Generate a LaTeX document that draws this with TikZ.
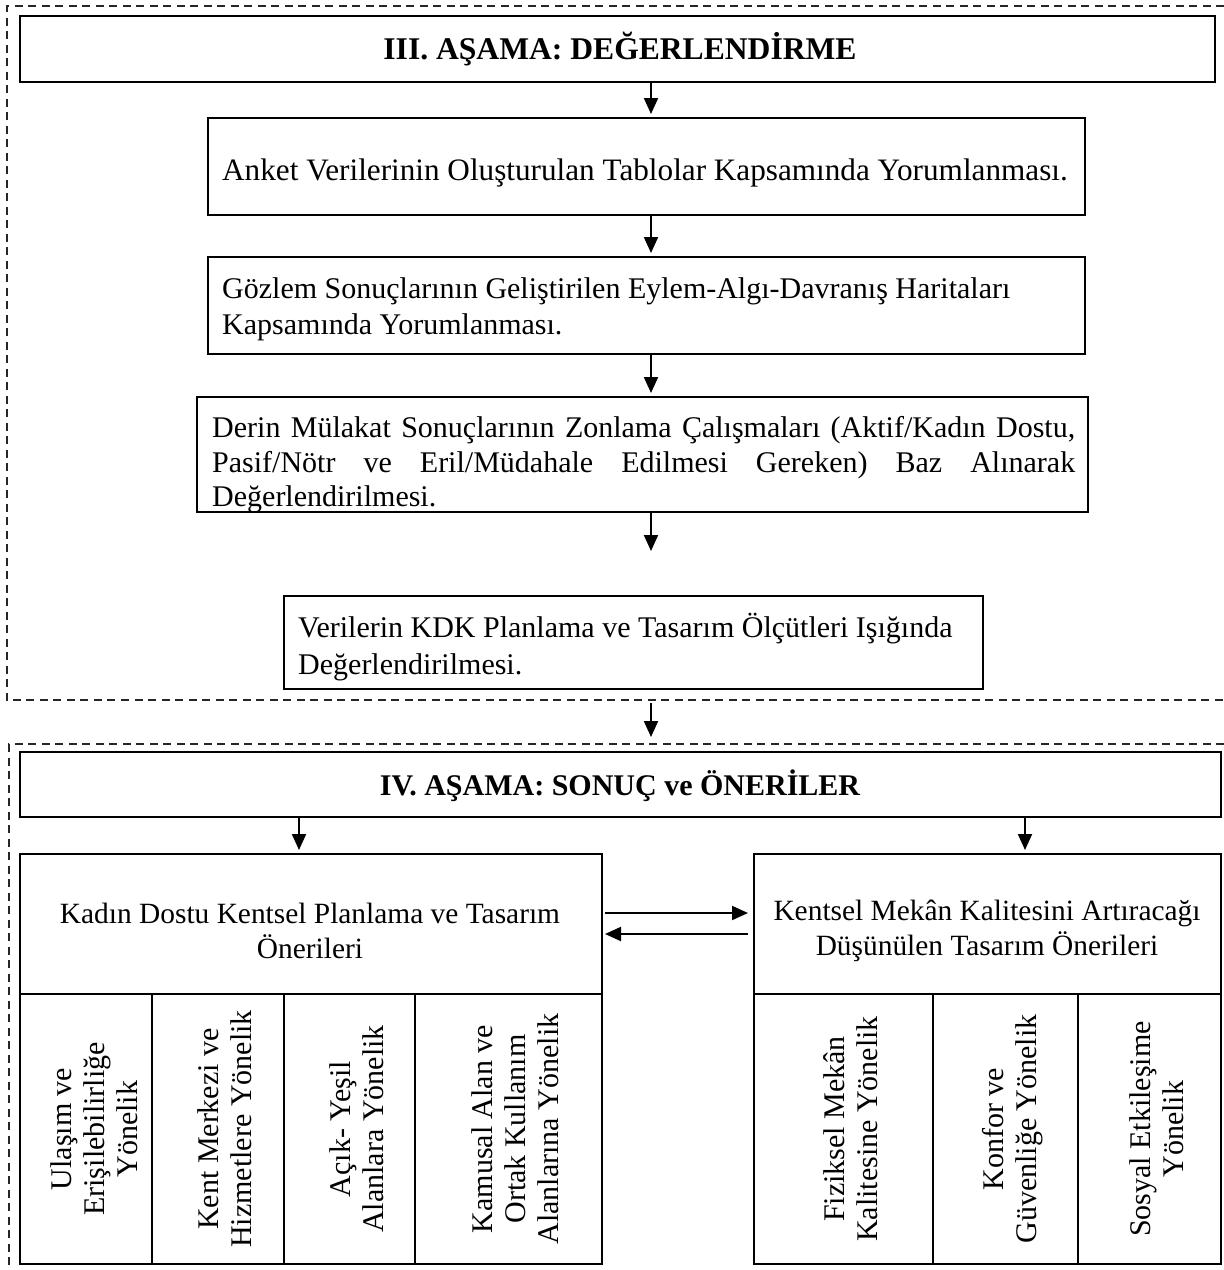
\documentclass[tikz,border=0pt]{standalone}
\usepackage{fontspec}
\setmainfont{Liberation Serif}
\usetikzlibrary{arrows.meta}
\begin{document}
\begin{tikzpicture}[x=1pt,y=-1pt,
  box/.style={draw, line width=1.7pt, inner sep=0pt, outer sep=0pt, anchor=north west},
  dline/.style={draw=black!85, line width=1.4pt, dash pattern=on 8pt off 5.5pt},
  arr/.style={-{Triangle[length=16pt,width=14pt]}, line width=2pt},
  txt/.style={font=\fontsize{30}{36}\selectfont, inner sep=0pt},
  ttl/.style={font=\fontsize{30}{35}\selectfont\bfseries, inner sep=0pt},
  vtxt/.style={font=\fontsize{30}{33}\selectfont, inner sep=0pt, rotate=90, align=center},
]
\useasboundingbox (0,0) rectangle (1224,1270);
% dashed frames
\draw[dline] (1224,6) -- (7,6) -- (7,700) -- (1224,700);
\draw[dline] (1224,744) -- (9,744) -- (9,1272);
% boxes
\node[box, minimum width=1195pt, minimum height=66pt] (t1) at (20,16) {};
\node[box, minimum width=877pt, minimum height=97pt] (b2) at (208,118) {};
\node[box, minimum width=877pt, minimum height=97pt] (b3) at (208,257) {};
\node[box, minimum width=891pt, minimum height=115pt] (b4) at (197,397) {};
\node[box, minimum width=699pt, minimum height=93pt] (b5) at (284,596) {};
\node[box, minimum width=1201pt, minimum height=65pt] (t2) at (20,752) {};
\node[box, minimum width=582pt, minimum height=140pt] (lu) at (20,854) {};
\node[box, minimum width=467pt, minimum height=140pt] (ru) at (754,854) {};
\node[box, minimum width=132pt, minimum height=270pt] (c1) at (20,994) {};
\node[box, minimum width=132pt, minimum height=270pt] (c2) at (152,994) {};
\node[box, minimum width=131pt, minimum height=270pt] (c3) at (284,994) {};
\node[box, minimum width=187pt, minimum height=270pt] (c4) at (415,994) {};
\node[box, minimum width=179pt, minimum height=270pt] (c5) at (754,994) {};
\node[box, minimum width=145pt, minimum height=270pt] (c6) at (933,994) {};
\node[box, minimum width=143pt, minimum height=270pt] (c7) at (1078,994) {};
% texts
\node[ttl, font=\fontsize{31.6}{36}\selectfont\bfseries] (t1t) at (620,49) {III. AŞAMA: DEĞERLENDİRME};
\node[txt, anchor=west, font=\fontsize{31.2}{36}\selectfont] (b2t) at (222,173) {Anket Verilerinin Oluşturulan Tablolar Kapsamında Yorumlanması.};
\node[txt, anchor=west, align=left] (b3t) at (222,309) {Gözlem Sonuçlarının Geliştirilen Eylem-Algı-Davranış Haritaları\\Kapsamında Yorumlanması.};
\node[txt, anchor=west, text width=863pt, align=justify, font=\fontsize{30}{34.5}\selectfont] (b4t) at (212,465) {Derin Mülakat Sonuçlarının Zonlama Çalışmaları (Aktif/Kadın Dostu,\linebreak Pasif/Nötr ve Eril/Müdahale Edilmesi Gereken) Baz Alınarak\linebreak Değerlendirilmesi.};
\node[txt, anchor=west, align=left, font=\fontsize{30}{37}\selectfont] (b5t) at (298,647) {Verilerin KDK Planlama ve Tasarım Ölçütleri Işığında\\Değerlendirilmesi.};
\node[ttl] (t2t) at (620,786) {IV. AŞAMA: SONUÇ ve ÖNERİLER};
\node[txt, align=center, font=\fontsize{29.4}{35}\selectfont] (lut) at (310,931) {Kadın Dostu Kentsel Planlama ve Tasarım\\Önerileri};
\node[txt, align=center, font=\fontsize{29.4}{35}\selectfont] (rut) at (987,931) {Kentsel Mekân Kalitesini Artıracağı\\Düşünülen Tasarım Önerileri};
\node[vtxt] (c1t) at ([xshift=8pt]c1.center) {Ulaşım ve\\Erişilebilirliğe\\Yönelik};
\node[vtxt] (c2t) at ([xshift=7pt]c2.center) {Kent Merkezi ve\\Hizmetlere Yönelik};
\node[vtxt] (c3t) at ([xshift=7pt]c3.center) {Açık- Yeşil\\Alanlara Yönelik};
\node[vtxt] (c4t) at ([xshift=7pt]c4.center) {Kamusal Alan ve\\Ortak Kullanım\\Alanlarına Yönelik};
\node[vtxt] (c5t) at ([xshift=7pt]c5.center) {Fiziksel Mekân\\Kalitesine Yönelik};
\node[vtxt] (c6t) at ([xshift=7pt]c6.center) {Konfor ve\\Güvenliğe Yönelik};
\node[vtxt] (c7t) at ([xshift=7pt]c7.center) {Sosyal Etkileşime\\Yönelik};
% connectors
\coordinate (ax) at (651,0);
\coordinate (a5) at (651,551);
\coordinate (d1) at (651,703);
\coordinate (d2) at (651,737);
\coordinate (h1) at (0,913);
\coordinate (h2) at (0,934);
\coordinate (lx) at (299,0);
\coordinate (rx) at (1025,0);
\draw[arr, shorten >=4pt] (t1.south -| ax) -- (b2.north -| ax);
\draw[arr, shorten >=4pt] (b2.south -| ax) -- (b3.north -| ax);
\draw[arr, shorten >=4pt] (b3.south -| ax) -- (b4.north -| ax);
\draw[arr] (b4.south -| ax) -- (a5);
\draw[arr] (d1) -- (d2);
\draw[arr, shorten >=4pt] (t2.south -| lx) -- (lu.north -| lx);
\draw[arr, shorten >=4pt] (t2.south -| rx) -- (ru.north -| rx);
\draw[arr, shorten <=3pt, shorten >=6pt] (lu.east |- h1) -- (ru.west |- h1);
\draw[arr, shorten <=6pt, shorten >=3pt] (ru.west |- h2) -- (lu.east |- h2);
\end{tikzpicture}
\end{document}
